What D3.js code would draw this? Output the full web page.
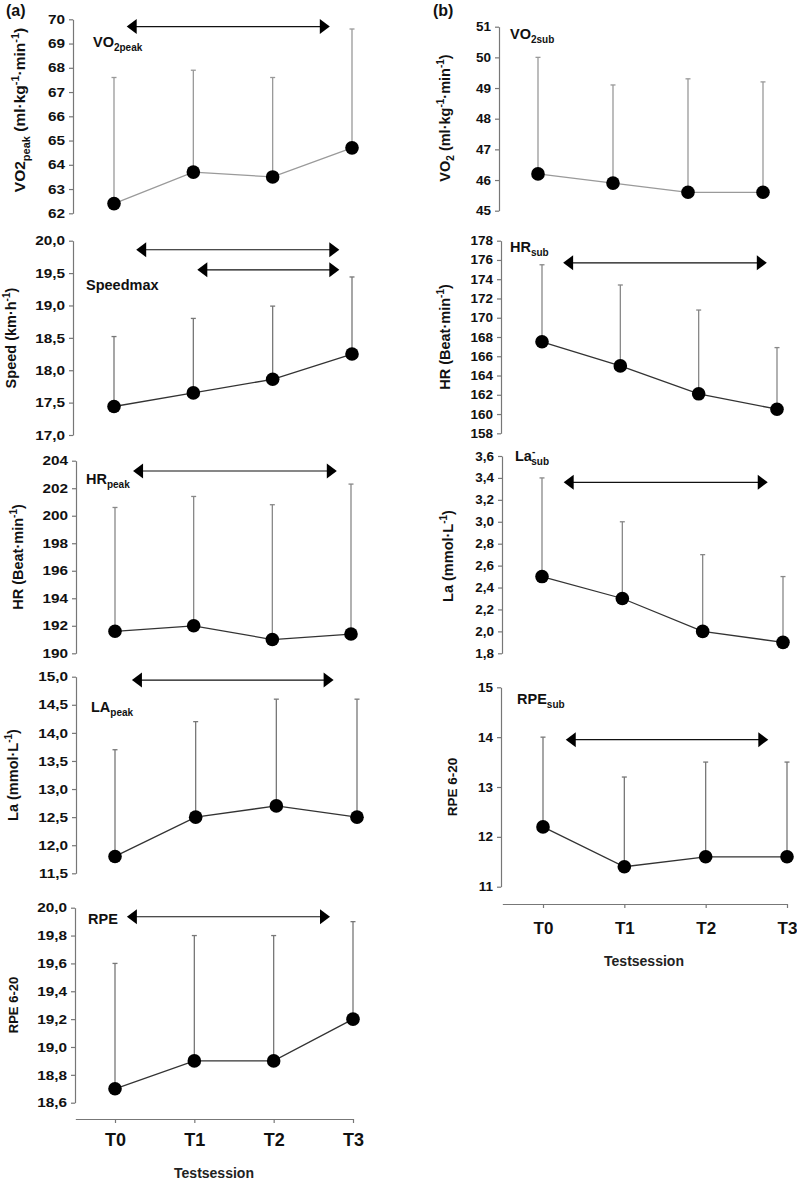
<!DOCTYPE html>
<html>
<head>
<meta charset="utf-8">
<script src="https://cdn.jsdelivr.net/npm/d3@7"></script>
<style>
  html, body { margin: 0; padding: 0; background: #fff; }
  svg { display: block; font-family: "Liberation Sans", Arial, sans-serif; }
</style>
</head>
<body>
<svg id="chart" width="797" height="1180"></svg>
<script>
// ---------- DATA ----------
const sessions = ["T0", "T1", "T2", "T3"];

// (a) peak values
const vo2peakMean  = [62.4, 63.7, 63.5, 64.7];
const vo2peakUpper = [67.6, 67.9, 67.6, 69.6];
const vo2peakTicks = [62, 63, 64, 65, 66, 67, 68, 69, 70];
const vo2peakArrows = [[0.16, 2.72, 69.7]];

const speedMean  = [17.44, 17.65, 17.86, 18.25];
const speedUpper = [18.52, 18.80, 18.99, 19.44];
const speedTicks = [17.0, 17.5, 18.0, 18.5, 19.0, 19.5, 20.0];
const speedArrows = [[0.28, 2.84, 19.86], [1.05, 2.84, 19.55]];

const hrpeakMean  = [191.6, 192.0, 191.0, 191.4];
const hrpeakUpper = [200.6, 201.4, 200.8, 202.3];
const hrpeakTicks = [190, 192, 194, 196, 198, 200, 202, 204];
const hrpeakArrows = [[0.23, 2.82, 203.25]];

const lapeakMean  = [11.8, 12.5, 12.7, 12.5];
const lapeakUpper = [13.7, 14.2, 14.6, 14.6];
const lapeakTicks = [11.5, 12.0, 12.5, 13.0, 13.5, 14.0, 14.5, 15.0];
const lapeakArrows = [[0.21, 2.71, 14.94]];

const rpeMean  = [18.7, 18.9, 18.9, 19.2];
const rpeUpper = [19.6, 19.8, 19.8, 19.9];
const rpeTicks = [18.6, 18.8, 19.0, 19.2, 19.4, 19.6, 19.8, 20.0];
const rpeArrows = [[0.15, 2.71, 19.935]];

// (b) submaximal values
const vo2subMean  = [46.2, 45.9, 45.6, 45.6];
const vo2subUpper = [50.0, 49.1, 49.3, 49.2];
const vo2subTicks = [45, 46, 47, 48, 49, 50, 51];
const vo2subArrows = [];

const hrsubMean  = [167.5, 165.0, 162.1, 160.5];
const hrsubUpper = [175.5, 173.4, 170.8, 166.9];
const hrsubTicks = [158, 160, 162, 164, 166, 168, 170, 172, 174, 176, 178];
const hrsubArrows = [[0.27, 2.87, 175.7]];

const lasubMean  = [2.5, 2.3, 2.0, 1.9];
const lasubUpper = [3.4, 3.0, 2.7, 2.5];
const lasubTicks = [1.8, 2.0, 2.2, 2.4, 2.6, 2.8, 3.0, 3.2, 3.4, 3.6];
const lasubArrows = [[0.27, 2.81, 3.36]];

const rpesubMean  = [12.2, 11.4, 11.6, 11.6];
const rpesubUpper = [14.0, 13.2, 13.5, 13.5];
const rpesubTicks = [11, 12, 13, 14, 15];
const rpesubArrows = [[0.28, 2.77, 13.95]];

// ---------- HELPERS ----------
const comma1 = d => d3.format(".1f")(d).replace(".", ",");
const intFmt = d => d3.format("d")(d);

const svg = d3.select("#chart");
const TXT = "#111";

// label parts: [text, kind, dx] kind: n normal, sub, sup
function richText(sel, parts, size) {
  const small = Math.round(size * 0.68);
  let shift = 0;
  parts.forEach(([t, k, dx]) => {
    const target = k === "sub" ? size * 0.3 : (k === "sup" ? -size * 0.4 : 0);
    const ts = sel.append("tspan").text(t)
      .attr("font-size", k === "n" ? size : small)
      .attr("dy", target - shift);
    if (dx) ts.attr("dx", dx);
    shift = target;
  });
}

// ---------- PANELS (layout) ----------
const panels = [
  { mean: vo2peakMean, upper: vo2peakUpper, ticks: vo2peakTicks, arrows: vo2peakArrows, fmt: intFmt,
    top: 19.3, bottom: 213.3, axisX: 73, x0: 114, x3: 352, col: "a", line: "#9a9a9a", err: "#999",
    yl: [25, 110, 15.5, [["VO2", "n"], ["peak", "sub"], [" (ml·kg", "n"], ["-1", "sup"], ["·min", "n"], ["-1", "sup"], [")", "n"]]],
    sl: [93, 47, [["VO", "n"], ["2peak", "sub"]]] },
  { mean: speedMean, upper: speedUpper, ticks: speedTicks, arrows: speedArrows, fmt: comma1,
    top: 240.7, bottom: 435, axisX: 73, x0: 114, x3: 352, col: "a", line: "#333", err: "#777",
    yl: [16, 338, 14.5, [["Speed (km·h", "n"], ["-1", "sup"], [")", "n"]]],
    sl: [86, 290, [["Speedmax", "n"]]] },
  { mean: hrpeakMean, upper: hrpeakUpper, ticks: hrpeakTicks, arrows: hrpeakArrows, fmt: intFmt,
    top: 460.7, bottom: 653.3, axisX: 76, x0: 115, x3: 351, col: "a", line: "#333", err: "#888",
    yl: [23, 557, 14.5, [["HR (Beat·min", "n"], ["-1", "sup"], [")", "n"]]],
    sl: [86, 484, [["HR", "n"], ["peak", "sub"]]] },
  { mean: lapeakMean, upper: lapeakUpper, ticks: lapeakTicks, arrows: lapeakArrows, fmt: comma1,
    top: 676.7, bottom: 873.3, axisX: 76, x0: 115, x3: 357, col: "a", line: "#333", err: "#777",
    yl: [18, 775, 14.5, [["La (mmol·L", "n"], ["-1", "sup"], [")", "n"]]],
    sl: [91, 712, [["LA", "n"], ["peak", "sub"]]] },
  { mean: rpeMean, upper: rpeUpper, ticks: rpeTicks, arrows: rpeArrows, fmt: comma1,
    top: 907.7, bottom: 1102.7, axisX: 75, x0: 115, x3: 353, col: "a", line: "#333", err: "#777",
    yl: [18, 1005, 13, [["RPE 6-20", "n"]]],
    sl: [88, 924, [["RPE", "n"]]] },
  { mean: vo2subMean, upper: vo2subUpper, ticks: vo2subTicks, arrows: vo2subArrows, fmt: intFmt,
    top: 26.7, bottom: 210.7, axisX: 499, x0: 538, x3: 763, col: "b", line: "#9a9a9a", err: "#999",
    yl: [450, 118, 14.5, [["VO", "n"], ["2", "sub"], [" (ml·kg", "n"], ["-1", "sup"], ["·min", "n"], ["-1", "sup"], [")", "n"]]],
    sl: [510, 39, [["VO", "n"], ["2sub", "sub"]]] },
  { mean: hrsubMean, upper: hrsubUpper, ticks: hrsubTicks, arrows: hrsubArrows, fmt: intFmt,
    top: 240.7, bottom: 433.3, axisX: 501, x0: 542, x3: 777, col: "b", line: "#333", err: "#888",
    yl: [450, 337, 14.5, [["HR (Beat·min", "n"], ["-1", "sup"], [")", "n"]]],
    sl: [510, 252, [["HR", "n"], ["sub", "sub"]]] },
  { mean: lasubMean, upper: lasubUpper, ticks: lasubTicks, arrows: lasubArrows, fmt: comma1,
    top: 456, bottom: 653.3, axisX: 502, x0: 542, x3: 783, col: "b", line: "#333", err: "#888",
    yl: [453, 556, 14.5, [["La (mmol·L", "n"], ["-1", "sup"], [")", "n"]]],
    sl: [515, 461, [["La", "n"], ["-", "sup"], ["sub", "sub", -4]]] },
  { mean: rpesubMean, upper: rpesubUpper, ticks: rpesubTicks, arrows: rpesubArrows, fmt: intFmt,
    top: 687.3, bottom: 886.7, axisX: 501, x0: 543, x3: 787, col: "b", line: "#333", err: "#777",
    yl: [457, 787, 13.5, [["RPE 6-20", "n"]]],
    sl: [517, 704, [["RPE", "n"], ["sub", "sub"]]] }
];

panels.forEach(p => {
  const y = d3.scaleLinear().domain(d3.extent(p.ticks)).range([p.bottom, p.top]);
  const x = d3.scaleLinear().domain([0, 3]).range([p.x0, p.x3]);
  const g = svg.append("g");
  const stretch = p.col === "a" ? 1.18 : 1.08;
  const tsize = p.col === "a" ? 13 : 12.5;

  // y axis
  const ax = g.append("g").attr("transform", `translate(${p.axisX},0)`)
    .call(d3.axisLeft(y).tickValues(p.ticks).tickFormat(p.fmt).tickSize(4).tickSizeOuter(0).tickPadding(4));
  ax.select(".domain").attr("stroke", "#777").attr("stroke-width", 1.2);
  ax.selectAll(".tick line").attr("stroke", "#777").attr("stroke-width", 1.2);
  ax.selectAll(".tick text")
    .attr("font-size", tsize).attr("font-weight", "bold").attr("fill", TXT)
    .attr("font-family", "'Liberation Sans', Arial, sans-serif")
    .attr("x", -8 / stretch)
    .attr("transform", `scale(${stretch},1)`);

  // error bars (upper only)
  const eb = g.append("g").attr("stroke", p.err).attr("stroke-width", 1.3).attr("fill", "none");
  p.mean.forEach((m, i) => {
    eb.append("line").attr("x1", x(i)).attr("x2", x(i)).attr("y1", y(m)).attr("y2", y(p.upper[i]));
    eb.append("line").attr("x1", x(i) - 2.5).attr("x2", x(i) + 2.5).attr("y1", y(p.upper[i])).attr("y2", y(p.upper[i]));
  });

  // connecting line
  g.append("path").datum(p.mean)
    .attr("d", d3.line().x((d, i) => x(i)).y(d => y(d)))
    .attr("fill", "none").attr("stroke", p.line).attr("stroke-width", 1.3);

  // points
  g.selectAll("circle.pt").data(p.mean).join("circle").attr("class", "pt")
    .attr("cx", (d, i) => x(i)).attr("cy", d => y(d)).attr("r", 6.8).attr("fill", "#000");

  // significance arrows
  p.arrows.forEach(([a, b, v]) => {
    const xa = x(a), xb = x(b), yy = y(v);
    g.append("line").attr("x1", xa + 9).attr("x2", xb - 9).attr("y1", yy).attr("y2", yy)
      .attr("stroke", "#111").attr("stroke-width", 1.2);
    g.append("path").attr("d", `M${xa},${yy}L${xa + 10},${yy - 7.5}L${xa + 10},${yy + 7.5}Z`).attr("fill", "#000");
    g.append("path").attr("d", `M${xb},${yy}L${xb - 10},${yy - 7.5}L${xb - 10},${yy + 7.5}Z`).attr("fill", "#000");
  });

  // y label (rotated)
  const [lx, ly, lsize, lparts] = p.yl;
  const yt = g.append("text").attr("transform", `translate(${lx},${ly}) rotate(-90)`)
    .attr("text-anchor", "middle").attr("font-weight", "bold").attr("fill", TXT);
  richText(yt, lparts, lsize);

  // panel sub-label
  const [sx, sy, sparts] = p.sl;
  const st = g.append("text").attr("x", sx).attr("y", sy).attr("font-weight", "bold").attr("fill", TXT);
  richText(st, sparts, 14.5);
});

// ---------- X AXES ----------
const xAxes = [
  { x0: 115, x3: 353, y: 1119, size: 18, pad: 10, title: [214, 1178] },
  { x0: 543, x3: 787, y: 904, size: 17, pad: 14, title: [644, 966] }
];
xAxes.forEach(a => {
  const x = d3.scaleLinear().domain([-0.5, 3]).range([a.x0 - 0.5 * (a.x3 - a.x0) / 3, a.x3]);
  const ax = svg.append("g").attr("transform", `translate(0,${a.y})`)
    .call(d3.axisBottom(x).tickValues([0, 1, 2, 3]).tickFormat(i => sessions[i]).tickSize(4).tickSizeOuter(0).tickPadding(a.pad));
  ax.select(".domain").attr("stroke", "#777").attr("stroke-width", 1.2);
  ax.selectAll(".tick line").attr("stroke", "#777").attr("stroke-width", 1.2);
  ax.selectAll(".tick text").attr("font-size", a.size).attr("font-weight", "bold").attr("fill", TXT)
    .attr("font-family", "'Liberation Sans', Arial, sans-serif");
  svg.append("text").attr("x", a.title[0]).attr("y", a.title[1]).attr("text-anchor", "middle")
    .attr("font-size", 14).attr("font-weight", "bold").attr("fill", "#222").text("Testsession");
});

// panel letters
svg.append("text").attr("x", 6).attr("y", 16).attr("font-size", 16).attr("font-weight", "bold").attr("fill", TXT).text("(a)");
svg.append("text").attr("x", 433).attr("y", 16).attr("font-size", 16).attr("font-weight", "bold").attr("fill", TXT).text("(b)");
</script>
</body>
</html>
